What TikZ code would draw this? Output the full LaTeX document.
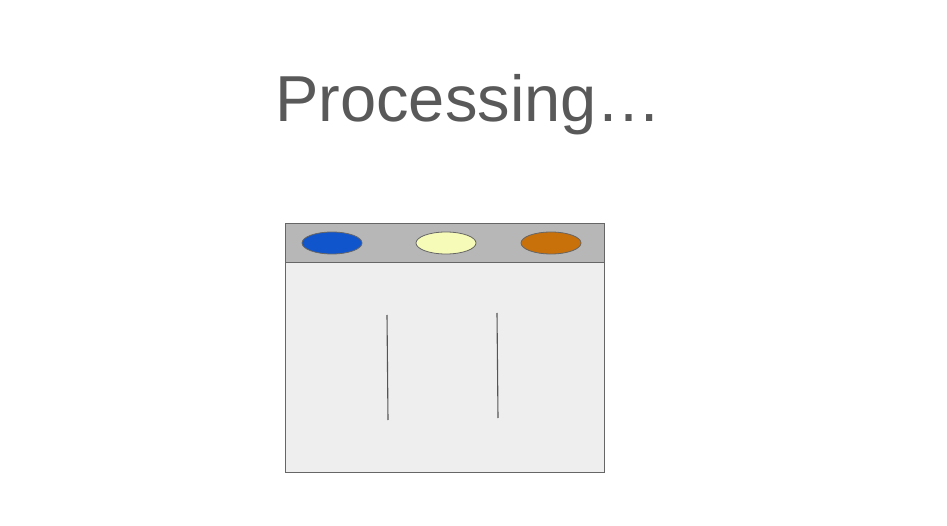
\documentclass[tikz,border=0pt]{standalone}
\usepackage{fontspec}
\setmainfont{Liberation Sans}
\usetikzlibrary{shapes.geometric}
\definecolor{titlegray}{HTML}{595959}
\definecolor{edgegray}{HTML}{666666}
\definecolor{slotgray}{HTML}{555555}
\definecolor{headfill}{HTML}{B7B7B7}
\definecolor{bodyfill}{HTML}{EEEEEE}
\definecolor{dotblue}{HTML}{1155CC}
\definecolor{dotyellow}{HTML}{F7FBB8}
\definecolor{dotorange}{HTML}{C8700A}
\begin{document}
\begin{tikzpicture}[x=1pt,y=-1pt,
  dot/.style={ellipse,draw=edgegray,line width=0.8pt,minimum width=60pt,minimum height=22pt,inner sep=0pt},
  slot/.style={draw=slotgray,line width=1.1pt}]
\useasboundingbox (0,0) rectangle (947,526);
\node[text=titlegray,font=\fontsize{65}{70}\selectfont,anchor=base] (title) at (468.5,122) {Processing…};
\draw[fill=bodyfill,draw=edgegray,line width=0.9pt] (285,262) rectangle (604,472);
\draw[fill=headfill,draw=edgegray,line width=0.9pt] (285,223) rectangle (604,262);
\node[dot,fill=dotblue] (b) at (332,243) {};
\node[dot,fill=dotyellow] (y) at (446,243) {};
\node[dot,fill=dotorange] (o) at (551,243) {};
\coordinate (l1a) at (387,315); \coordinate (l1b) at (388,420);
\coordinate (l2a) at (497,313); \coordinate (l2b) at (498,418);
\draw[slot] (l1a) -- (l1b);
\draw[slot] (l2a) -- (l2b);
\end{tikzpicture}
\end{document}
